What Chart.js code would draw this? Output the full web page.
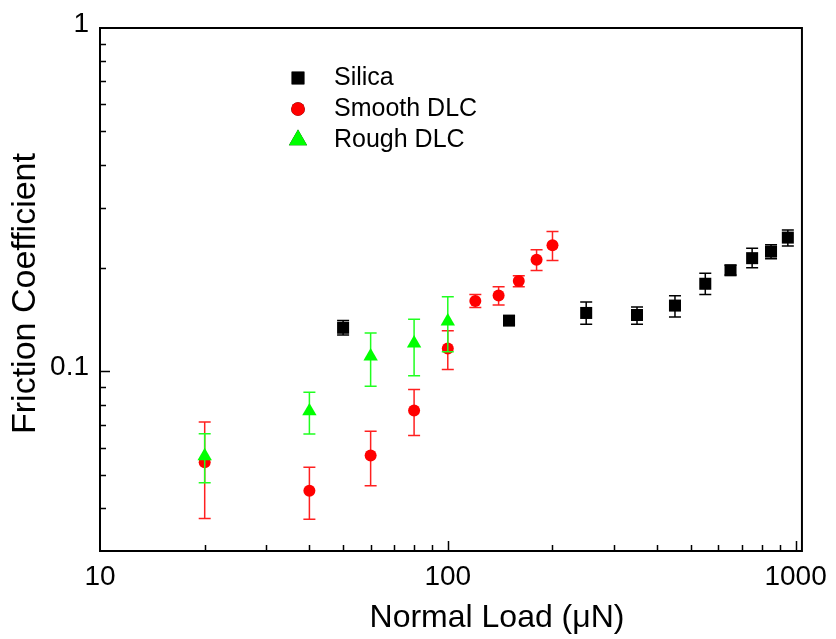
<!DOCTYPE html>
<html>
<head>
<meta charset="utf-8">
<script src="https://cdn.jsdelivr.net/npm/chart.js@4.4.1/dist/chart.umd.min.js"></script>
<style>
  html, body { margin: 0; padding: 0; background: #fff; }
  #wrap { width: 836px; height: 639px; }
</style>
</head>
<body>
<div id="wrap"><canvas id="c" width="836" height="639"></canvas></div>
<script>
// Normal load (µN) and friction coefficient, with upper / lower error limits
const silicaLoad = [50, 150, 250, 350, 450, 550, 650, 750, 850, 950];
const silicaMu   = [0.134, 0.1406, 0.148, 0.146, 0.1555, 0.180, 0.197, 0.2137, 0.2233, 0.2453];
const silicaHi   = [0.1406, 0.145, 0.1593, 0.154, 0.166, 0.193, 0.2037, 0.2285, 0.234, 0.2579];
const silicaLo   = [0.1277, 0.137, 0.1372, 0.1372, 0.144, 0.1675, 0.191, 0.2003, 0.213, 0.2317];

const smoothLoad = [20, 40, 60, 80, 100, 120, 140, 160, 180, 200];
const smoothMu   = [0.0544, 0.0449, 0.0569, 0.0770, 0.1167, 0.1604, 0.1663, 0.1835, 0.2114, 0.2331];
const smoothHi   = [0.0713, 0.0526, 0.0670, 0.0886, 0.1314, 0.1675, 0.1765, 0.190, 0.2261, 0.2557];
const smoothLo   = [0.0373, 0.0371, 0.0465, 0.0651, 0.1013, 0.1536, 0.156, 0.1765, 0.1966, 0.2104];

const roughLoad = [20, 40, 60, 80, 100];
const roughMu   = [0.0567, 0.0766, 0.1106, 0.1208, 0.140];
const roughHi   = [0.0659, 0.0870, 0.1293, 0.1419, 0.165];
const roughLo   = [0.0474, 0.0657, 0.0906, 0.0972, 0.1141];

const seriesNames = ['Silica', 'Smooth DLC', 'Rough DLC'];

// Axis labels and tick positions
const xLabelTicks = [10, 100, 1000];
const yLabelTicks = [0.1, 1];
const xMajorMarks = [100, 1000];
const xMinorMarks = [20, 30, 40, 50, 60, 70, 80, 90, 200, 300, 400, 500, 600, 700, 800, 900];
const yMajorMarks = [0.1];
const yMinorMarks = [0.04, 0.05, 0.06, 0.07, 0.08, 0.09, 0.2, 0.3, 0.4, 0.5, 0.6, 0.7, 0.8, 0.9];
const xTitle = 'Normal Load (\u03bcN)';
const yTitle = 'Friction Coefficient';

const FONT = "'Liberation Sans', Arial, Helvetica, sans-serif";

function pts(xs, ys) { return xs.map((x, i) => ({ x: x, y: ys[i] })); }

// Vertical error bars with caps, drawn just before each dataset's markers
const errorBars = {
  id: 'errorBars',
  beforeDatasetDraw(chart, args) {
    const ds = chart.data.datasets[args.index];
    if (!ds.errHi) return;
    const xs = chart.scales.x, ys = chart.scales.y, ctx = chart.ctx;
    ctx.save();
    ctx.strokeStyle = ds.errColor;
    ctx.lineWidth = 1.5;
    ds.data.forEach((p, i) => {
      const px = xs.getPixelForValue(p.x);
      const top = ys.getPixelForValue(ds.errHi[i]);
      const bot = ys.getPixelForValue(ds.errLo[i]);
      ctx.beginPath();
      ctx.moveTo(px, top); ctx.lineTo(px, bot);
      ctx.moveTo(px - 6, top); ctx.lineTo(px + 6, top);
      ctx.moveTo(px - 6, bot); ctx.lineTo(px + 6, bot);
      ctx.stroke();
    });
    ctx.restore();
  }
};

// Box frame with inward tick marks on the bottom and left axes
const frameTicks = {
  id: 'frameTicks',
  afterDraw(chart) {
    const { ctx, chartArea: a } = chart;
    const xs = chart.scales.x, ys = chart.scales.y;
    ctx.save();
    ctx.strokeStyle = '#000';
    ctx.lineWidth = 1.5;
    ctx.beginPath();
    const mark = (vals, len, horiz) => vals.forEach(v => {
      if (horiz) {
        const px = Math.round(xs.getPixelForValue(v)) + 0.5;
        ctx.moveTo(px, a.bottom); ctx.lineTo(px, a.bottom - len);
      } else {
        const py = Math.round(ys.getPixelForValue(v)) + 0.5;
        ctx.moveTo(a.left, py); ctx.lineTo(a.left + len, py);
      }
    });
    mark(xMinorMarks, 6, true);
    mark(xMajorMarks, 10, true);
    mark(yMinorMarks, 6, false);
    mark(yMajorMarks, 10, false);
    ctx.stroke();
    ctx.lineWidth = 2;
    ctx.strokeRect(a.left, a.top, a.right - a.left, a.bottom - a.top);
    ctx.restore();
  }
};

// Legend inside the plot and the two axis titles
const annotations = {
  id: 'annotations',
  afterDraw(chart) {
    const { ctx, chartArea: a } = chart;
    ctx.save();
    const rows = [a.top + 50, a.top + 81, a.top + 112];
    const mx = a.left + 198, tx = a.left + 234;
    chart.data.datasets.forEach((ds, i) => {
      Chart.helpers.drawPoint(ctx, {
        pointStyle: ds.pointStyle, radius: ds.legendRadius, rotation: 0, borderWidth: 0
      }, mx, rows[i]);
      ctx.fillStyle = ds.backgroundColor;
      ctx.fill();
      ctx.fillStyle = '#000';
      ctx.font = '25px ' + FONT;
      ctx.textAlign = 'left';
      ctx.textBaseline = 'middle';
      ctx.fillText(ds.label, tx, rows[i]);
    });
    ctx.fillStyle = '#000';
    ctx.font = '32px ' + FONT;
    ctx.textAlign = 'center';
    ctx.textBaseline = 'middle';
    ctx.fillText(xTitle, 497, 618);
    ctx.font = '34px ' + FONT;
    ctx.translate(26, (a.top + a.bottom) / 2 + 4);
    ctx.rotate(-Math.PI / 2);
    ctx.fillText(yTitle, 0, 0);
    ctx.restore();
  }
};

new Chart(document.getElementById('c'), {
  type: 'scatter',
  data: {
    datasets: [
      { label: seriesNames[0], data: pts(silicaLoad, silicaMu), errHi: silicaHi, errLo: silicaLo,
        pointStyle: 'rect', pointRadius: 8.5, legendRadius: 9, backgroundColor: '#000000',
        errColor: '#000000', order: 3 },
      { label: seriesNames[1], data: pts(smoothLoad, smoothMu), errHi: smoothHi, errLo: smoothLo,
        pointStyle: 'circle', pointRadius: 6, legendRadius: 6.8, backgroundColor: '#ff0000',
        errColor: '#ff2020', order: 2 },
      { label: seriesNames[2], data: pts(roughLoad, roughMu), errHi: roughHi, errLo: roughLo,
        pointStyle: 'triangle', pointRadius: 8.3, legendRadius: 10.5, backgroundColor: '#00ff00',
        errColor: '#20ff20', order: 1 }
    ].map(d => Object.assign(d, { borderWidth: 0, pointBorderWidth: 0, pointHoverRadius: d.pointRadius,
        pointBackgroundColor: d.backgroundColor, borderColor: d.backgroundColor, showLine: false }))
  },
  options: {
    responsive: false,
    animation: false,
    events: [],
    layout: { padding: { left: 0, top: 28, right: 30, bottom: 0 } },
    plugins: { legend: { display: false }, tooltip: { enabled: false } },
    scales: {
      x: {
        type: 'logarithmic', min: 10, max: 1043,
        grid: { display: false, drawTicks: false }, border: { display: false },
        ticks: { color: '#000', font: { family: FONT, size: 28 }, padding: 9, maxRotation: 0,
                 autoSkip: false, callback: v => String(v) },
        afterBuildTicks: s => { s.ticks = xLabelTicks.map(v => ({ value: v })); },
        afterFit: s => { s.height = 88; }
      },
      y: {
        type: 'logarithmic', min: 0.03, max: 1,
        grid: { display: false, drawTicks: false }, border: { display: false },
        ticks: { color: '#000', font: { family: FONT, size: 28 }, padding: 11, labelOffset: -4,
                 autoSkip: false, callback: v => String(v) },
        afterBuildTicks: s => { s.ticks = yLabelTicks.map(v => ({ value: v })); },
        afterFit: s => { s.width = 100; }
      }
    }
  },
  plugins: [errorBars, frameTicks, annotations]
});
</script>
</body>
</html>
